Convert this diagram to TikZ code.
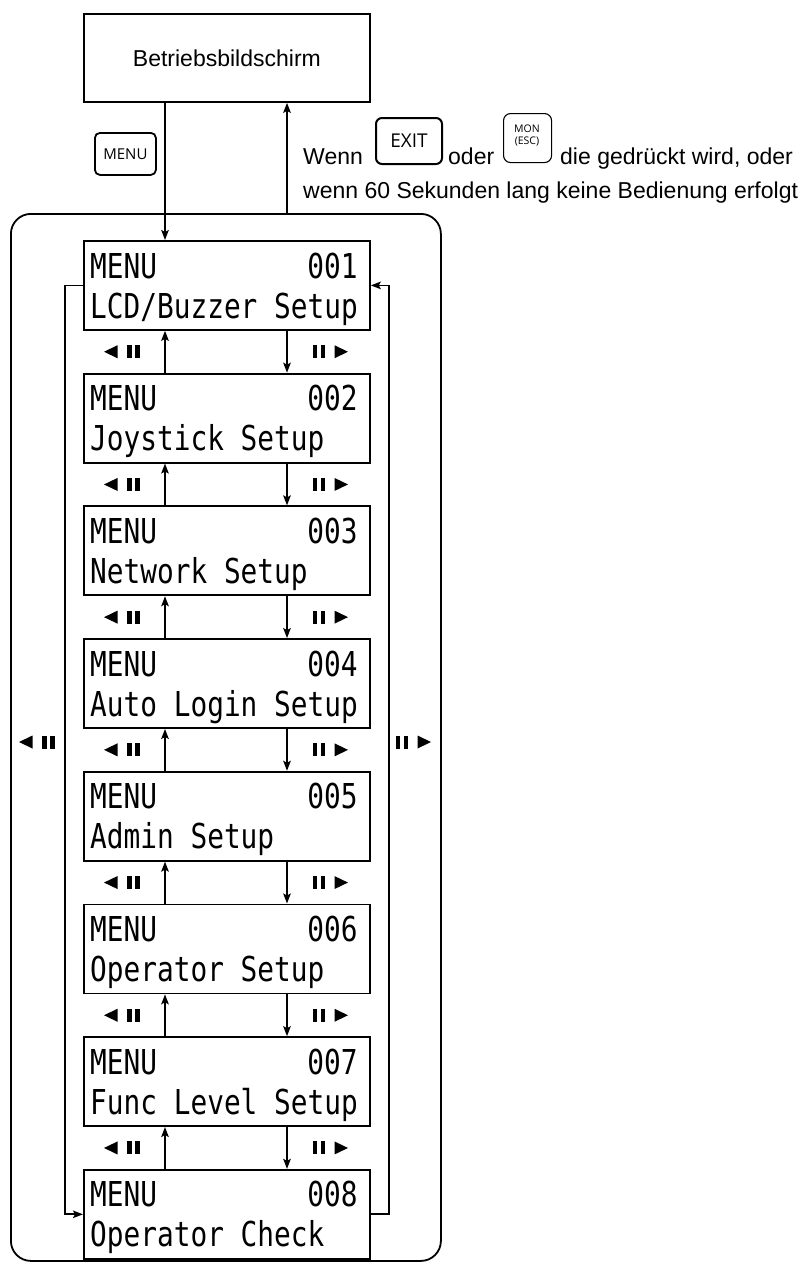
\documentclass[tikz,border=0pt]{standalone}
\usepackage{fontspec}
\setmainfont{Liberation Sans}
\newfontfamily\keyfont{Open Sans}
\newfontfamily\lcdfont[FakeStretch=0.81]{DejaVu Sans Mono}
\usetikzlibrary{arrows.meta,calc}
\tikzset{
  frame/.style={draw, line width=1.8pt, inner sep=0pt},
  menubox/.style={frame, minimum width=286pt, minimum height=89pt, anchor=north west},
  arr/.style={line width=1.8pt, -{Stealth[length=10pt,width=7.5pt,inset=2pt]}},
  lcd/.style={inner sep=0pt, font=\lcdfont\fontsize{34.3}{36}\selectfont},
  lbl/.style={inner sep=0pt, anchor=base west, font=\fontsize{23}{27}\selectfont},
  keycap/.style={draw, inner sep=0pt, anchor=north west},
  prevsym/.pic={
    \fill (-18,0) -- (-4.5,-6.5) -- (-4.5,6.5) -- cycle;
    \fill (5,-6.5) rectangle (9.5,6.5);
    \fill (13,-6.5) rectangle (17.5,6.5);
  },
  nextsym/.pic={
    \fill (18,0) -- (4.5,-6.5) -- (4.5,6.5) -- cycle;
    \fill (-5,-6.5) rectangle (-9.5,6.5);
    \fill (-13,-6.5) rectangle (-17.5,6.5);
  }
}
\begin{document}
\begin{tikzpicture}[x=1pt,y=-1pt]
\useasboundingbox (0,0) rectangle (809,1263);
\coordinate (cL) at (165,0);
\coordinate (cR) at (287,0);
\coordinate (cPL) at (122,0);
\coordinate (cNR) at (330,0);

% top screen
\node[frame, minimum width=286pt, minimum height=88pt, anchor=north west,
      font=\fontsize{23}{27}\selectfont] (top) at (83,13) {Betriebsbildschirm};

% outer frame
\node[draw, line width=1.8pt, rounded corners=20pt, minimum width=430pt,
      minimum height=1047pt, anchor=north west] (outer) at (10,213) {};

% MENU key
\node[keycap, line width=1.8pt, rounded corners=5pt, minimum width=61pt, minimum height=42pt,
      font=\keyfont\fontsize{15}{16}\selectfont] (menukey) at (94,132) {MENU};

% exit text
\node[lbl] (w1) at (303,164) {Wenn};
\node[keycap, line width=2pt, rounded corners=6pt, minimum width=66pt, minimum height=46pt,
      font=\keyfont\fontsize{19}{20}\selectfont] (exit) at (375,117) {EXIT};
\node[lbl] (w2) at (448,164) {oder};
\node[keycap, line width=1.1pt, rounded corners=7pt, minimum width=48pt, minimum height=49pt] (mon) at (503,113) {};
\node[inner sep=0pt, align=center, font=\keyfont\fontsize{10.5}{12}\selectfont] (monl) at (527,136) {MON\\(ESC)};
\node[lbl] (w3) at (560,164) {die gedrückt wird, oder};
\node[lbl] (w4) at (303,198) {wenn 60 Sekunden lang keine Bedienung erfolgt};

% menu boxes
\foreach \i/\t in {1/{LCD/Buzzer Setup},2/{Joystick Setup},3/{Network Setup},4/{Auto Login Setup},
                   5/{Admin Setup},6/{Operator Setup},7/{Func Level Setup},8/{Operator Check}}{
  \pgfmathsetmacro\yy{240+132.7*(\i-1)}
  \node[menubox] (m\i) at (83,\yy) {};
  \node[lcd, anchor=base west] (m\i a) at ($(m\i.north west)+(7,38)$) {MENU};
  \node[lcd, anchor=base east] (m\i b) at ($(m\i.north east)+(-13,38)$) {00\i};
  \node[lcd, anchor=base west] (m\i c) at ($(m\i.north west)+(7,78)$) {\t};
}

% connectors between boxes
\foreach \i [evaluate=\i as \j using int(\i+1)] in {1,...,7}{
  \draw[arr] (m\j.north -| cL) -- (m\i.south -| cL);
  \draw[arr] (m\i.south -| cR) -- (m\j.north -| cR);
  \coordinate (mid\i) at ($(m\i.south)!0.5!(m\j.north)$);
  \pic at (mid\i -| cPL) {prevsym};
  \pic at (mid\i -| cNR) {nextsym};
}

% top connections
\draw[arr] (top.south -| cL) -- (m1.north -| cL);
\draw[arr] (outer.north -| cR) -- (top.south -| cR);

% wrap-around loops
\draw[arr] (m1.west) -- ++(-18,0) |- (m8.west);
\draw[arr] (m8.east) -- ++(18,0) |- (m1.east);
\pic at (37,742) {prevsym};
\pic at (413,742) {nextsym};
\end{tikzpicture}
\end{document}
